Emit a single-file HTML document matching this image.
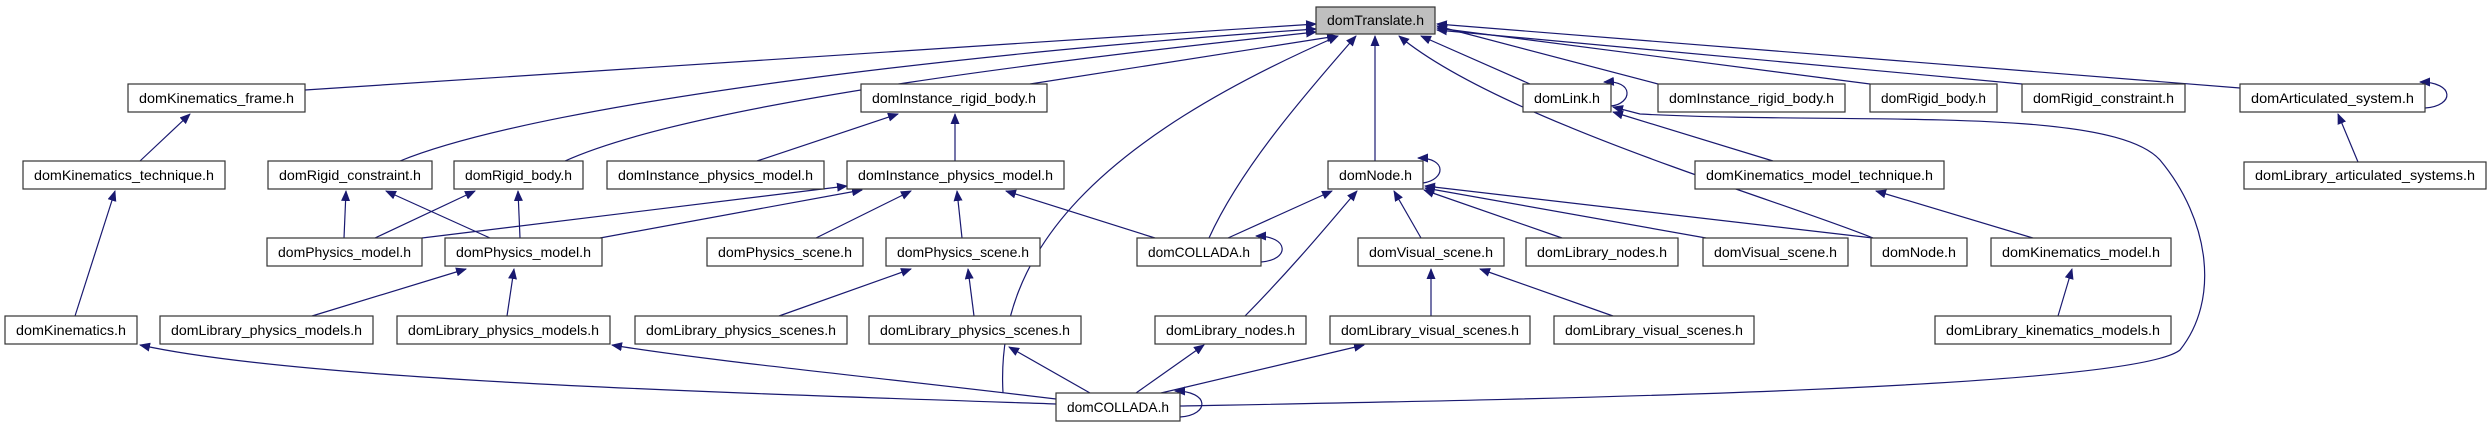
<!DOCTYPE html>
<html><head><meta charset="utf-8"><style>
html,body{margin:0;padding:0;background:#fff;}
svg{display:block;}
text{font-family:"Liberation Sans","DejaVu Sans",sans-serif;font-size:14px;fill:#000;}
.e{fill:none;stroke:#191970;stroke-width:1.2;marker-end:url(#a);}
.b{fill:#fff;stroke:#333;stroke-width:1.2;}
</style></head><body>
<svg width="2489" height="427" viewBox="0 0 2489 427" xmlns="http://www.w3.org/2000/svg">
<defs><marker id="a" markerWidth="11" markerHeight="9" refX="10" refY="4.5" orient="auto" markerUnits="userSpaceOnUse"><path d="M0,0 L11,4.5 L0,9 z" fill="#191970"/></marker></defs>

<!-- edges -->
<path class="e" d="M305,90 L1316,24"/>
<path class="e" d="M400,161 C550,100 1000,50 1316,29"/>
<path class="e" d="M565,161 C700,100 1100,55 1316,32"/>
<path class="e" d="M1030,84 L1337,36"/>
<path class="e" d="M1003,393 C995,250 1100,140 1338,36"/>
<path class="e" d="M1209,238 C1240,170 1300,100 1356,36"/>
<path class="e" d="M1375,161 L1375,36"/>
<path class="e" d="M1873,238 C1780,200 1500,120 1399,36"/>
<path class="e" d="M1530,84 L1421,36"/>
<path class="e" d="M1658,84 L1437,26"/>
<path class="e" d="M1870,84 L1437,28"/>
<path class="e" d="M2022,84 L1437,30"/>
<path class="e" d="M2240,88 L1437,24"/>

<path class="e" d="M140,161 L190,114"/>
<path class="e" d="M75,316 L115,191"/>
<path class="e" d="M344,238 L346,191"/>
<path class="e" d="M490,238 L386,191"/>
<path class="e" d="M375,238 L475,191"/>
<path class="e" d="M520,238 L518,191"/>
<path class="e" d="M422,238 L847,186"/>
<path class="e" d="M600,238 L862,190"/>
<path class="e" d="M757,161 L898,114"/>
<path class="e" d="M955,161 L955,114"/>
<path class="e" d="M816,238 L911,191"/>
<path class="e" d="M962,238 L957,191"/>
<path class="e" d="M1155,238 L1006,191"/>
<path class="e" d="M1228,238 L1332,191"/>
<path class="e" d="M1245,316 C1300,260 1340,210 1357,191"/>
<path class="e" d="M1421,238 L1394,191"/>
<path class="e" d="M1562,238 L1424,190"/>
<path class="e" d="M1706,238 L1425,188"/>
<path class="e" d="M1873,238 L1425,186"/>
<path class="e" d="M1431,316 L1431,269"/>
<path class="e" d="M1613,316 L1480,269"/>
<path class="e" d="M779,316 L911,269"/>
<path class="e" d="M974,316 L968,269"/>
<path class="e" d="M312,316 L466,269"/>
<path class="e" d="M507,316 L514,269"/>
<path class="e" d="M1773,161 L1613,112"/>
<path class="e" d="M2033,238 L1876,191"/>
<path class="e" d="M2058,316 L2072,269"/>
<path class="e" d="M2358,162 L2338,114"/>

<path class="e" d="M1056,404 C700,392 300,380 140,345"/>
<path class="e" d="M1056,399 C900,380 700,360 612,345"/>
<path class="e" d="M1090,393 L1009,347"/>
<path class="e" d="M1136,393 L1204,345"/>
<path class="e" d="M1161,393 L1364,345"/>
<path class="e" d="M1180,406 C1500,400 2130,390 2180,350 C2220,300 2210,220 2160,160 C2110,105 1850,125 1640,114 L1613,107"/>

<!-- self loops -->
<path class="e" d="M1611,106 C1632,104 1635,80 1604,82"/>
<path class="e" d="M1423,183 C1445,180 1448,158 1418,158"/>
<path class="e" d="M1261,262 C1290,260 1290,236 1256,236"/>
<path class="e" d="M1180,417 C1210,415 1210,391 1175,391"/>
<path class="e" d="M2425,108 C2455,106 2455,82 2420,82"/>

<!-- nodes -->
<g>
<rect x="1316" y="7" width="119" height="27" fill="#bfbfbf" stroke="#333" stroke-width="1.2"/><text x="1375.5" y="25" text-anchor="middle" textLength="97" lengthAdjust="spacingAndGlyphs">domTranslate.h</text>

<rect class="b" x="128" y="84" width="177" height="28"/><text x="216.5" y="103" text-anchor="middle" textLength="155" lengthAdjust="spacingAndGlyphs">domKinematics_frame.h</text>
<rect class="b" x="861" y="84" width="186" height="28"/><text x="954" y="103" text-anchor="middle" textLength="164" lengthAdjust="spacingAndGlyphs">domInstance_rigid_body.h</text>
<rect class="b" x="1523" y="84" width="88" height="28"/><text x="1567" y="103" text-anchor="middle" textLength="66" lengthAdjust="spacingAndGlyphs">domLink.h</text>
<rect class="b" x="1658" y="84" width="187" height="28"/><text x="1751.5" y="103" text-anchor="middle" textLength="165" lengthAdjust="spacingAndGlyphs">domInstance_rigid_body.h</text>
<rect class="b" x="1870" y="84" width="127" height="28"/><text x="1933.5" y="103" text-anchor="middle" textLength="105" lengthAdjust="spacingAndGlyphs">domRigid_body.h</text>
<rect class="b" x="2022" y="84" width="163" height="28"/><text x="2103.5" y="103" text-anchor="middle" textLength="141" lengthAdjust="spacingAndGlyphs">domRigid_constraint.h</text>
<rect class="b" x="2240" y="84" width="185" height="28"/><text x="2332.5" y="103" text-anchor="middle" textLength="163" lengthAdjust="spacingAndGlyphs">domArticulated_system.h</text>

<rect class="b" x="23" y="161" width="202" height="28"/><text x="124" y="180" text-anchor="middle" textLength="180" lengthAdjust="spacingAndGlyphs">domKinematics_technique.h</text>
<rect class="b" x="268" y="161" width="164" height="28"/><text x="350" y="180" text-anchor="middle" textLength="142" lengthAdjust="spacingAndGlyphs">domRigid_constraint.h</text>
<rect class="b" x="454" y="161" width="129" height="28"/><text x="518.5" y="180" text-anchor="middle" textLength="107" lengthAdjust="spacingAndGlyphs">domRigid_body.h</text>
<rect class="b" x="607" y="161" width="217" height="28"/><text x="715.5" y="180" text-anchor="middle" textLength="195" lengthAdjust="spacingAndGlyphs">domInstance_physics_model.h</text>
<rect class="b" x="847" y="161" width="217" height="28"/><text x="955.5" y="180" text-anchor="middle" textLength="195" lengthAdjust="spacingAndGlyphs">domInstance_physics_model.h</text>
<rect class="b" x="1328" y="161" width="95" height="28"/><text x="1375.5" y="180" text-anchor="middle" textLength="73" lengthAdjust="spacingAndGlyphs">domNode.h</text>
<rect class="b" x="1695" y="161" width="249" height="28"/><text x="1819.5" y="180" text-anchor="middle" textLength="227" lengthAdjust="spacingAndGlyphs">domKinematics_model_technique.h</text>
<rect class="b" x="2244" y="162" width="242" height="27"/><text x="2365" y="180" text-anchor="middle" textLength="220" lengthAdjust="spacingAndGlyphs">domLibrary_articulated_systems.h</text>

<rect class="b" x="267" y="238" width="155" height="28"/><text x="344.5" y="257" text-anchor="middle" textLength="133" lengthAdjust="spacingAndGlyphs">domPhysics_model.h</text>
<rect class="b" x="445" y="238" width="157" height="28"/><text x="523.5" y="257" text-anchor="middle" textLength="135" lengthAdjust="spacingAndGlyphs">domPhysics_model.h</text>
<rect class="b" x="707" y="238" width="156" height="28"/><text x="785" y="257" text-anchor="middle" textLength="134" lengthAdjust="spacingAndGlyphs">domPhysics_scene.h</text>
<rect class="b" x="886" y="238" width="154" height="28"/><text x="963" y="257" text-anchor="middle" textLength="132" lengthAdjust="spacingAndGlyphs">domPhysics_scene.h</text>
<rect class="b" x="1137" y="238" width="124" height="28"/><text x="1199" y="257" text-anchor="middle" textLength="102" lengthAdjust="spacingAndGlyphs">domCOLLADA.h</text>
<rect class="b" x="1358" y="238" width="146" height="28"/><text x="1431" y="257" text-anchor="middle" textLength="124" lengthAdjust="spacingAndGlyphs">domVisual_scene.h</text>
<rect class="b" x="1526" y="238" width="152" height="28"/><text x="1602" y="257" text-anchor="middle" textLength="130" lengthAdjust="spacingAndGlyphs">domLibrary_nodes.h</text>
<rect class="b" x="1703" y="238" width="145" height="28"/><text x="1775.5" y="257" text-anchor="middle" textLength="123" lengthAdjust="spacingAndGlyphs">domVisual_scene.h</text>
<rect class="b" x="1871" y="238" width="96" height="28"/><text x="1919" y="257" text-anchor="middle" textLength="74" lengthAdjust="spacingAndGlyphs">domNode.h</text>
<rect class="b" x="1991" y="238" width="180" height="28"/><text x="2081" y="257" text-anchor="middle" textLength="158" lengthAdjust="spacingAndGlyphs">domKinematics_model.h</text>

<rect class="b" x="5" y="316" width="132" height="28"/><text x="71" y="335" text-anchor="middle" textLength="110" lengthAdjust="spacingAndGlyphs">domKinematics.h</text>
<rect class="b" x="160" y="316" width="213" height="28"/><text x="266.5" y="335" text-anchor="middle" textLength="191" lengthAdjust="spacingAndGlyphs">domLibrary_physics_models.h</text>
<rect class="b" x="397" y="316" width="213" height="28"/><text x="503.5" y="335" text-anchor="middle" textLength="191" lengthAdjust="spacingAndGlyphs">domLibrary_physics_models.h</text>
<rect class="b" x="635" y="316" width="212" height="28"/><text x="741" y="335" text-anchor="middle" textLength="190" lengthAdjust="spacingAndGlyphs">domLibrary_physics_scenes.h</text>
<rect class="b" x="869" y="316" width="212" height="28"/><text x="975" y="335" text-anchor="middle" textLength="190" lengthAdjust="spacingAndGlyphs">domLibrary_physics_scenes.h</text>
<rect class="b" x="1155" y="316" width="151" height="28"/><text x="1230.5" y="335" text-anchor="middle" textLength="129" lengthAdjust="spacingAndGlyphs">domLibrary_nodes.h</text>
<rect class="b" x="1330" y="316" width="200" height="28"/><text x="1430" y="335" text-anchor="middle" textLength="178" lengthAdjust="spacingAndGlyphs">domLibrary_visual_scenes.h</text>
<rect class="b" x="1554" y="316" width="200" height="28"/><text x="1654" y="335" text-anchor="middle" textLength="178" lengthAdjust="spacingAndGlyphs">domLibrary_visual_scenes.h</text>
<rect class="b" x="1935" y="316" width="236" height="28"/><text x="2053" y="335" text-anchor="middle" textLength="214" lengthAdjust="spacingAndGlyphs">domLibrary_kinematics_models.h</text>

<rect class="b" x="1056" y="393" width="124" height="28"/><text x="1118" y="412" text-anchor="middle" textLength="102" lengthAdjust="spacingAndGlyphs">domCOLLADA.h</text>
</g>
</svg>
</body></html>
